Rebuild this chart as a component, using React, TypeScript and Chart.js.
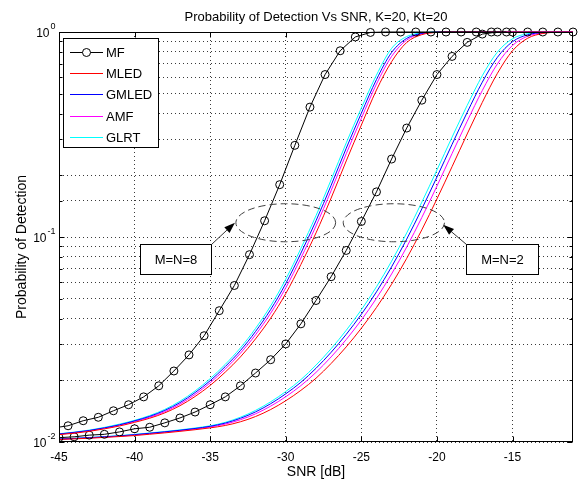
import React, { useEffect, useRef } from "react";
import { Chart, registerables } from "chart.js";

Chart.register(...registerables);

// ---------------- data ----------------
const TITLE = "Probability of Detection Vs SNR, K=20, Kt=20";
const X_LABEL = "SNR [dB]";
const Y_LABEL = "Probability of Detection";
const X_TICKS = [-45, -40, -35, -30, -25, -20, -15];
const Y_TICK_VALUES = [0.01, 0.1, 1];
const Y_TICK_EXPONENTS = ["-2", "-1", "0"];

const SERIES_NAMES = ["MF", "MLED", "GMLED", "AMF", "GLRT"];
const GROUP_LABELS = ["M=N=8", "M=N=2"];

const SNR = [
  -45, -44, -43, -42, -41, -40, -39, -38, -37, -36, -35, -34, -33, -32, -31, -30, -29, -28,
  -27, -26, -25, -24, -23, -22, -21, -20, -19, -18, -17, -16, -15, -14, -13, -12, -11,
];
const SNR_MF8 = [
  -45.4, -44.4, -43.4, -42.4, -41.4, -40.4, -39.4, -38.4, -37.4, -36.4, -35.4, -34.4, -33.4,
  -32.4, -31.4, -30.4, -29.4, -28.4, -27.4, -26.4, -25.4, -24.4, -23.4, -22.4, -21.4, -20.4,
  -19.4, -18.4, -17.4, -16.4, -15.4,
];

// M=N=8
const MF_8 = [
  0.0117, 0.012, 0.0127, 0.0132, 0.0142, 0.0152, 0.0166, 0.0188, 0.0222, 0.0266, 0.033, 0.0437,
  0.058, 0.082, 0.12, 0.18, 0.28, 0.43, 0.62, 0.81, 0.946, 0.995, 1, 1, 1, 1, 1, 1, 1, 1, 1,
];
const MLED_8 = [
  0.01086, 0.01104, 0.01127, 0.01159, 0.01197, 0.01247, 0.01306, 0.01387, 0.01503, 0.01667,
  0.01888, 0.02193, 0.026, 0.03184, 0.04018, 0.05297, 0.07345, 0.1047, 0.1549, 0.235, 0.3516,
  0.5212, 0.7161, 0.8892, 0.9705, 0.9954, 1, 1, 1, 1, 1, 1, 1, 1, 1,
];
const GMLED_8 = [
  0.01094, 0.01114, 0.01138, 0.01172, 0.01213, 0.01268, 0.01334, 0.01426, 0.01556, 0.01742,
  0.01991, 0.02333, 0.02793, 0.03459, 0.04426, 0.05929, 0.08337, 0.12, 0.1786, 0.271, 0.4018,
  0.5861, 0.7943, 0.9311, 0.984, 0.9986, 1, 1, 1, 1, 1, 1, 1, 1, 1,
];
const AMF_8 = [
  0.01091, 0.01109, 0.01135, 0.01167, 0.01208, 0.01259, 0.01321, 0.01406, 0.01531, 0.01706,
  0.01945, 0.0227, 0.0271, 0.03334, 0.04246, 0.05649, 0.07889, 0.1132, 0.1683, 0.2547, 0.3793,
  0.5572, 0.7603, 0.9141, 0.9795, 0.9972, 1, 1, 1, 1, 1, 1, 1, 1, 1,
];
const GLRT_8 = [
  0.01097, 0.01117, 0.01143, 0.01178, 0.01222, 0.01276, 0.01346, 0.01442, 0.01581, 0.01774,
  0.02037, 0.02393, 0.02877, 0.03581, 0.04613, 0.06223, 0.0879, 0.1271, 0.1901, 0.2877, 0.4256,
  0.6166, 0.8318, 0.9506, 0.9908, 1, 1, 1, 1, 1, 1, 1, 1, 1, 1,
];

// M=N=2
const MF_2 = [
  0.0105, 0.0106, 0.0108, 0.0109, 0.0112, 0.0116, 0.0118, 0.0124, 0.0131, 0.014, 0.0152, 0.0166,
  0.0188, 0.0217, 0.0252, 0.0301, 0.0377, 0.049, 0.064, 0.086, 0.119, 0.166, 0.24, 0.34, 0.465,
  0.62, 0.76, 0.89, 0.977, 1, 1, 1, 1, 1, 1,
];
const MLED_2 = [
  0.01029, 0.01036, 0.01043, 0.01053, 0.01063, 0.01075, 0.01091, 0.01108, 0.01127, 0.01148,
  0.01172, 0.01204, 0.01255, 0.01331, 0.0144, 0.01589, 0.01786, 0.02047, 0.02416, 0.02911,
  0.03589, 0.04531, 0.05882, 0.07867, 0.1084, 0.1534, 0.2203, 0.3181, 0.4534, 0.6288, 0.81,
  0.9322, 0.9833, 0.9979, 1,
];
const GMLED_2 = [
  0.01033, 0.01041, 0.0105, 0.0106, 0.01071, 0.01086, 0.01103, 0.01121, 0.01141, 0.01164,
  0.01193, 0.01237, 0.01305, 0.01402, 0.01537, 0.01718, 0.01955, 0.02288, 0.02738, 0.03351,
  0.04198, 0.054, 0.07153, 0.09763, 0.1371, 0.1961, 0.283, 0.4054, 0.569, 0.7528, 0.8968,
  0.9694, 0.9943, 0.9995, 1,
];
const AMF_2 = [
  0.01032, 0.01039, 0.01047, 0.01057, 0.01068, 0.01081, 0.01098, 0.01116, 0.01135, 0.01157,
  0.01184, 0.01223, 0.01284, 0.01372, 0.01496, 0.01663, 0.01884, 0.02185, 0.026, 0.03162,
  0.03936, 0.05023, 0.066, 0.08933, 0.1245, 0.1772, 0.2553, 0.3669, 0.5182, 0.699, 0.86, 0.9539,
  0.9897, 0.9988, 1,
];
const GLRT_2 = [
  0.01035, 0.01042, 0.01052, 0.01062, 0.01074, 0.01089, 0.01107, 0.01125, 0.01146, 0.0117,
  0.012, 0.01247, 0.01321, 0.01426, 0.0157, 0.01762, 0.02014, 0.02371, 0.02851, 0.03508,
  0.04416, 0.05715, 0.07621, 0.1047, 0.1479, 0.2123, 0.3069, 0.4385, 0.6124, 0.798, 0.9268,
  0.9818, 0.9977, 1, 1,
];

// ---------------- styles / annotation placement ----------------
const FONT = '"Liberation Sans", Arial, Helvetica, sans-serif';
const COLORS = { MF: "#000000", MLED: "#ff0000", GMLED: "#0000ff", AMF: "#ff00ff", GLRT: "#00ffff" };

// annotation geometry expressed in data coordinates (x in dB, y as probability)
const ELLIPSES = [
  { x0: -33.3, x1: -26.7, yTop: 0.1453, yBot: 0.0948 },
  { x0: -26.2, x1: -19.5, yTop: 0.1453, yBot: 0.0948 },
];
const BOXES = [
  { x0: -39.66, x1: -34.96, yTop: 0.0927, yBot: 0.0661, arrowFrom: "right", tipX: -33.36, tipY: 0.1175 },
  { x0: -18.07, x1: -13.3, yTop: 0.0927, yBot: 0.0661, arrowFrom: "left", tipX: -19.59, tipY: 0.1148 },
];

const pts = (xs: number[], ys: number[]) => xs.map((x, i) => ({ x, y: ys[i] }));

function lineDs(label: string, xs: number[], ys: number[], color: string, marker: boolean, inLegend: boolean) {
  return {
    label,
    data: pts(xs, ys),
    borderColor: color,
    backgroundColor: color,
    borderWidth: 1,
    pointRadius: marker ? 4 : 0,
    pointHoverRadius: marker ? 4 : 0,
    pointStyle: "circle",
    pointBorderColor: color,
    pointBackgroundColor: "rgba(0,0,0,0)",
    pointBorderWidth: 1,
    tension: 0,
    cubicInterpolationMode: marker ? "default" : "monotone",
    clip: { left: 0, top: 6, right: 6, bottom: 0 },
    inLegend,
  } as any;
}

const decorPlugin = {
  id: "decor",
  beforeDraw(chart: any) {
    const ctx = chart.ctx;
    ctx.save();
    ctx.fillStyle = "#ffffff";
    ctx.fillRect(0, 0, chart.width, chart.height);
    ctx.restore();
  },
  afterDatasetsDraw(chart: any) {
    const { ctx, chartArea: ca, scales } = chart;
    const xs = scales.x;
    const ys = scales.y;
    const L = Math.round(ca.left) + 0.5;
    const R = Math.round(ca.right) - 0.5;
    const T = Math.round(ca.top) + 0.5;
    const B = Math.round(ca.bottom) - 0.5;
    const px = (v: number) => xs.getPixelForValue(v);
    const py = (v: number) => ys.getPixelForValue(v);

    ctx.save();
    // frame
    ctx.strokeStyle = "#000";
    ctx.lineWidth = 1;
    ctx.setLineDash([]);
    ctx.strokeRect(L, T, R - L, B - T);

    // x tick marks
    ctx.beginPath();
    X_TICKS.forEach((v) => {
      const x = Math.round(px(v)) + 0.5;
      ctx.moveTo(x, B);
      ctx.lineTo(x, B - 5);
      ctx.moveTo(x, T);
      ctx.lineTo(x, T + 5);
    });
    // y tick marks (major + minor from the log scale)
    ys.ticks.forEach((t: any) => {
      const y = Math.round(py(t.value)) + 0.5;
      const major = Y_TICK_VALUES.some((m) => Math.abs(m - t.value) < 1e-9);
      const len = major ? 5 : 3;
      ctx.moveTo(L, y);
      ctx.lineTo(L + len, y);
      ctx.moveTo(R, y);
      ctx.lineTo(R - len, y);
    });
    ctx.stroke();

    // x tick labels
    ctx.fillStyle = "#000";
    ctx.font = `12px ${FONT}`;
    ctx.textAlign = "center";
    ctx.textBaseline = "alphabetic";
    X_TICKS.forEach((v) => ctx.fillText(String(v), px(v), B + 19));

    // y tick labels 10^k
    Y_TICK_VALUES.forEach((v, i) => {
      const y = py(v);
      ctx.font = `9px ${FONT}`;
      ctx.textAlign = "right";
      const ex = Y_TICK_EXPONENTS[i];
      const exRight = L - 4;
      ctx.fillText(ex, exRight, y - 3);
      const exW = ctx.measureText(ex).width;
      ctx.font = `12px ${FONT}`;
      ctx.fillText("10", exRight - exW - 1, y + 5);
    });

    // axis labels
    ctx.font = `14px ${FONT}`;
    ctx.textAlign = "center";
    ctx.fillText(X_LABEL, (L + R) / 2, B + 34);
    ctx.save();
    ctx.translate(22, (T + B) / 2 + 10);
    ctx.rotate(-Math.PI / 2);
    ctx.textBaseline = "middle";
    ctx.fillText(Y_LABEL, 0, 0);
    ctx.restore();

    // title
    ctx.font = `13px ${FONT}`;
    ctx.textAlign = "center";
    ctx.textBaseline = "alphabetic";
    ctx.fillText(TITLE, (L + R) / 2, 21);

    // dashed ellipses
    ctx.strokeStyle = "#404040";
    ctx.setLineDash([7, 4]);
    ELLIPSES.forEach((e) => {
      const x0 = px(e.x0), x1 = px(e.x1), y0 = py(e.yTop), y1 = py(e.yBot);
      ctx.beginPath();
      ctx.ellipse((x0 + x1) / 2, (y0 + y1) / 2, (x1 - x0) / 2, (y1 - y0) / 2, 0, 0, Math.PI * 2);
      ctx.stroke();
    });
    ctx.setLineDash([]);

    // text boxes with arrows
    BOXES.forEach((b, i) => {
      const x0 = Math.round(px(b.x0)) + 0.5, x1 = Math.round(px(b.x1)) + 0.5;
      const y0 = Math.round(py(b.yTop)) + 0.5, y1 = Math.round(py(b.yBot)) + 0.5;
      ctx.fillStyle = "#fff";
      ctx.fillRect(x0, y0, x1 - x0, y1 - y0);
      ctx.strokeStyle = "#000";
      ctx.lineWidth = 1;
      ctx.strokeRect(x0, y0, x1 - x0, y1 - y0);
      ctx.fillStyle = "#000";
      ctx.font = `13px ${FONT}`;
      ctx.textAlign = "center";
      ctx.textBaseline = "middle";
      ctx.fillText(GROUP_LABELS[i], (x0 + x1) / 2, (y0 + y1) / 2 + 1);

      const sx = b.arrowFrom === "right" ? x1 : x0;
      const sy = y0;
      const tx = px(b.tipX), ty = py(b.tipY);
      const ang = Math.atan2(ty - sy, tx - sx);
      const hl = 11, hw = 3.8;
      const bx = tx - hl * Math.cos(ang), by = ty - hl * Math.sin(ang);
      ctx.strokeStyle = "#333";
      ctx.beginPath();
      ctx.moveTo(sx, sy);
      ctx.lineTo(bx, by);
      ctx.stroke();
      ctx.fillStyle = "#000";
      ctx.beginPath();
      ctx.moveTo(tx, ty);
      ctx.lineTo(bx + hw * Math.sin(ang), by - hw * Math.cos(ang));
      ctx.lineTo(bx - hw * Math.sin(ang), by + hw * Math.cos(ang));
      ctx.closePath();
      ctx.fill();
    });

    // legend
    const lx0 = 63.5, ly0 = 38.5, lx1 = 158.5, ly1 = 147.5;
    ctx.fillStyle = "#fff";
    ctx.fillRect(lx0, ly0, lx1 - lx0, ly1 - ly0);
    ctx.strokeStyle = "#000";
    ctx.strokeRect(lx0, ly0, lx1 - lx0, ly1 - ly0);
    const entries = chart.data.datasets.filter((d: any) => d.inLegend);
    entries.forEach((d: any, i: number) => {
      const y = Math.round(52 + i * 21.2) + 0.5;
      ctx.strokeStyle = d.borderColor;
      ctx.lineWidth = 1;
      ctx.beginPath();
      ctx.moveTo(70, y);
      ctx.lineTo(103, y);
      ctx.stroke();
      if (d.pointRadius > 0) {
        ctx.beginPath();
        ctx.arc(86.5, y, 4, 0, Math.PI * 2);
        ctx.fillStyle = "#fff";
        ctx.fill();
        ctx.stroke();
      }
      ctx.fillStyle = "#000";
      ctx.font = `13px ${FONT}`;
      ctx.textAlign = "left";
      ctx.textBaseline = "middle";
      ctx.fillText(d.label, 106, y + 1);
    });
    ctx.restore();
  },
};

export default function App() {
  const ref = useRef<HTMLCanvasElement | null>(null);

  useEffect(() => {
    if (!ref.current) return;
    const datasets = [
      lineDs(SERIES_NAMES[0], SNR_MF8, MF_8, COLORS.MF, true, true),
      lineDs(SERIES_NAMES[1], SNR, MLED_8, COLORS.MLED, false, true),
      lineDs(SERIES_NAMES[2], SNR, GMLED_8, COLORS.GMLED, false, true),
      lineDs(SERIES_NAMES[3], SNR, AMF_8, COLORS.AMF, false, true),
      lineDs(SERIES_NAMES[4], SNR, GLRT_8, COLORS.GLRT, false, true),
      lineDs(SERIES_NAMES[0], SNR, MF_2, COLORS.MF, true, false),
      lineDs(SERIES_NAMES[1], SNR, MLED_2, COLORS.MLED, false, false),
      lineDs(SERIES_NAMES[2], SNR, GMLED_2, COLORS.GMLED, false, false),
      lineDs(SERIES_NAMES[3], SNR, AMF_2, COLORS.AMF, false, false),
      lineDs(SERIES_NAMES[4], SNR, GLRT_2, COLORS.GLRT, false, false),
    ];
    const gridColor = "#3a3a3a";
    const chart = new Chart(ref.current, {
      type: "line",
      data: { datasets },
      options: {
        responsive: false,
        animation: false,
        devicePixelRatio: 1,
        events: [],
        layout: { padding: { left: 59, top: 32, right: 7, bottom: 40 } },
        plugins: { legend: { display: false }, title: { display: false }, tooltip: { enabled: false } },
        scales: {
          x: {
            type: "linear",
            min: -45,
            max: -11,
            ticks: { display: false, stepSize: 5, includeBounds: false },
            grid: { color: gridColor, lineWidth: 1, drawTicks: false },
            border: { display: false, dash: [1, 3] },
          },
          y: {
            type: "logarithmic",
            min: 0.01,
            max: 1,
            ticks: { display: false },
            grid: { color: gridColor, lineWidth: 1, drawTicks: false },
            border: { display: false, dash: [1, 3] },
          },
        },
      } as any,
      plugins: [decorPlugin],
    });
    return () => chart.destroy();
  }, []);

  return (
    <div style={{ position: "absolute", left: 0, top: 0, width: 580, height: 482 }}>
      <canvas ref={ref} width={580} height={482} style={{ width: 580, height: 482, display: "block" }} />
    </div>
  );
}
